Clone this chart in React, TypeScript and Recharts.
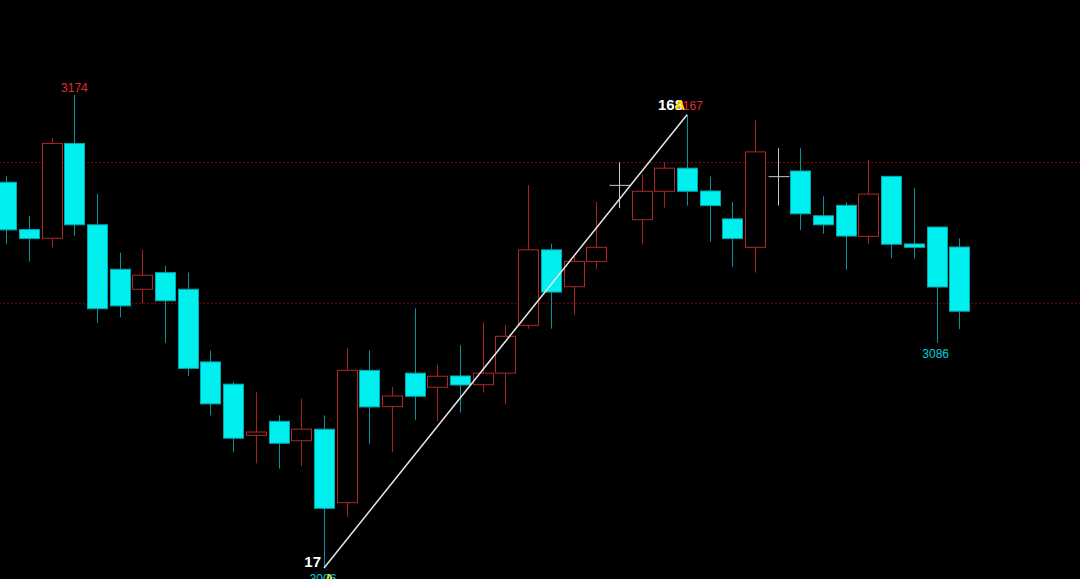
import { ComposedChart, Bar, XAxis, YAxis, ReferenceLine, ReferenceDot } from "recharts";

// OHLC, one entry per candle, left to right
const opens = [3143.0, 3126.2, 3123.1, 3156.8, 3127.9, 3112.1, 3105.0, 3110.9, 3105.0, 3079.2, 3071.3, 3053.1, 3058.1, 3051.2, 3055.3, 3029.2, 3076.2, 3063.3, 3075.2, 3070.2, 3074.2, 3071.1, 3075.2, 3092.2, 3119.0, 3105.9, 3114.9, 3141.9, 3129.7, 3139.8, 3148.0, 3139.9, 3130.0, 3119.9, 3145.0, 3147.0, 3131.1, 3134.8, 3123.8, 3145.1, 3121.1, 3127.1, 3120.0];
const highs = [3145.2, 3131.0, 3158.7, 3174.0, 3138.8, 3118.0, 3119.0, 3113.3, 3110.9, 3083.2, 3072.1, 3068.4, 3060.2, 3066.1, 3060.2, 3084.1, 3083.3, 3070.3, 3098.2, 3078.2, 3085.1, 3093.3, 3092.3, 3142.0, 3121.2, 3116.6, 3136.0, 3150.1, 3145.9, 3150.1, 3167.0, 3145.1, 3136.0, 3165.0, 3155.1, 3155.1, 3138.0, 3136.0, 3150.9, 3145.1, 3141.0, 3127.1, 3123.1];
const lows = [3121.1, 3114.8, 3119.9, 3123.9, 3093.1, 3095.0, 3100.0, 3086.0, 3074.2, 3060.2, 3047.1, 3043.2, 3041.3, 3042.2, 3006.0, 3024.2, 3050.0, 3047.2, 3058.6, 3058.2, 3061.2, 3068.3, 3064.1, 3091.0, 3091.0, 3096.0, 3112.1, 3133.8, 3121.0, 3134.0, 3134.7, 3121.9, 3113.0, 3110.9, 3134.7, 3126.1, 3124.7, 3112.0, 3121.1, 3116.0, 3116.0, 3086.0, 3090.9];
const closes = [3126.1, 3123.0, 3156.8, 3127.9, 3098.1, 3099.1, 3110.0, 3100.9, 3076.9, 3064.3, 3052.1, 3054.3, 3050.3, 3055.3, 3027.2, 3076.2, 3063.2, 3067.1, 3067.0, 3074.1, 3071.0, 3075.2, 3088.3, 3119.0, 3104.0, 3114.9, 3119.9, 3141.9, 3139.8, 3148.0, 3139.8, 3134.7, 3123.0, 3153.8, 3145.0, 3131.8, 3127.9, 3123.9, 3138.8, 3121.0, 3119.9, 3105.8, 3097.2];

// dotted guide levels
const guideLevels = [3150, 3100];
// marked extremes (candle index)
const highMarks = [3, 30];
const lowMarks = [14, 41];
// wave: from low candle to high candle, with its counts
const waveFrom = 14;
const waveTo = 30;
const waveLabels = ["17", "168"];

const priceDomain = [3002.09, 3207.74];

const rows = opens.map((o, i) => ({
  name: String(i),
  open: o,
  high: highs[i],
  low: lows[i],
  close: closes[i],
}));

const CYAN = "#00f0f0";
const CYAN_EDGE = "#00a8b0";
const CYAN_WICK = "#00969c";
const RED = "#b02828";
const RED_WICK = "#a82222";
const CROSS = "#c8c8c8";
const FONT = "'Liberation Sans', Arial, sans-serif";
const W = 1090;
const H = 579;

function Candle(props: any) {
  const { x, y, width, height, payload } = props;
  if (!payload || height == null) return null;
  const { open, close, high, low } = payload;
  const top0 = Math.min(y, y + height);
  const h = Math.abs(height);
  const k = high === low ? 0 : h / (high - low);
  const py = (v: number) => top0 + (high - v) * k;
  const cx = Math.round(x + width / 2) + 0.5;
  const yH = py(high);
  const yL = py(low);

  if (open === close) {
    const yc = py(open);
    return (
      <g>
        <line x1={cx} x2={cx} y1={yH} y2={yL} stroke={CROSS} strokeWidth={1} />
        <line x1={cx - 10} x2={cx + 11} y1={yc} y2={yc} stroke={CROSS} strokeWidth={1} />
      </g>
    );
  }

  const up = close > open;
  const bTop = py(Math.max(open, close));
  const bBot = py(Math.min(open, close));
  const wick = up ? RED_WICK : CYAN_WICK;
  return (
    <g>
      <line x1={cx} x2={cx} y1={yH} y2={bTop} stroke={wick} strokeWidth={1} />
      <line x1={cx} x2={cx} y1={bBot} y2={yL} stroke={wick} strokeWidth={1} />
      <rect
        x={cx - 10}
        y={bTop}
        width={20}
        height={Math.max(bBot - bTop, 1)}
        fill={up ? "#000" : CYAN}
        stroke={up ? RED : CYAN_EDGE}
        strokeWidth={1}
      />
    </g>
  );
}

const textAt = (dx: number, dy: number, txt: string, fill: string, size: number, anchor: string, bold = false) =>
  (p: any) => {
    const vb = p.viewBox || {};
    const cx = (vb.x ?? 0) + (vb.width ?? 0) / 2;
    const cy = (vb.y ?? 0) + (vb.height ?? 0) / 2;
    return (
      <text
        x={cx + dx}
        y={cy + dy}
        fill={fill}
        fontSize={size}
        fontFamily={FONT}
        fontWeight={bold ? "bold" : "normal"}
        textAnchor={anchor as any}
      >
        {txt}
      </text>
    );
  };

const axes = (
  <>
    <XAxis dataKey="name" hide padding={{ left: 0, right: W - rows.length * 22.69 }} />
    <YAxis hide domain={priceDomain} allowDataOverflow />
  </>
);

export default function App() {
  return (
    <div
      style={{
        position: "absolute",
        left: 0,
        top: 0,
        width: 1080,
        height: 579,
        background: "#000",
        overflow: "hidden",
      }}
    >
      {/* back layer: dotted guide levels */}
      <div style={{ position: "absolute", left: -5, top: 0 }}>
        <ComposedChart width={W} height={H} data={rows} margin={{ top: 0, right: 0, bottom: 0, left: 0 }}>
          {axes}
          {guideLevels.map((v) => (
            <ReferenceLine key={v} y={v} stroke="#8a0000" strokeDasharray="2 2" strokeWidth={1} />
          ))}
        </ComposedChart>
      </div>
      {/* front layer: candles and annotations */}
      <div style={{ position: "absolute", left: -5, top: 0 }}>
        <ComposedChart width={W} height={H} data={rows} margin={{ top: 0, right: 0, bottom: 0, left: 0 }}>
          {axes}
          <Bar dataKey={(d: any) => [d.low, d.high]} shape={Candle} isAnimationActive={false} />
          <ReferenceLine
            segment={[
              { x: String(waveFrom), y: lows[waveFrom] },
              { x: String(waveTo), y: highs[waveTo] },
            ]}
            stroke="#e8e8e8"
            strokeWidth={1.5}
            ifOverflow="visible"
          />
          {highMarks.map((i) => (
            <ReferenceDot
              key={"h" + i}
              x={String(i)}
              y={highs[i]}
              r={0}
              stroke="none"
              fill="none"
              ifOverflow="visible"
              label={
                i === waveTo
                  ? textAt(-11, -5, String(Math.round(highs[i])), "#e02a2a", 12, "start")
                  : textAt(0, -3, String(Math.round(highs[i])), "#e02a2a", 12, "middle")
              }
            />
          ))}
          {lowMarks.map((i) => (
            <ReferenceDot
              key={"l" + i}
              x={String(i)}
              y={lows[i]}
              r={0}
              stroke="none"
              fill="none"
              ifOverflow="visible"
              label={textAt(-1, 15, String(Math.round(lows[i])), "#00d0dc", 12, "middle")}
            />
          ))}
          <ReferenceDot
            x={String(waveFrom)}
            y={lows[waveFrom]}
            r={0}
            stroke="none"
            fill="none"
            ifOverflow="visible"
            label={textAt(-3, -1, waveLabels[0], "#ffffff", 15, "end", true)}
          />
          <ReferenceDot
            x={String(waveTo)}
            y={highs[waveTo]}
            r={0}
            stroke="none"
            fill="none"
            ifOverflow="visible"
            label={textAt(-29, -5, waveLabels[1], "#ffffff", 15, "start", true)}
          />
          <ReferenceDot
            x={String(waveTo)}
            y={highs[waveTo]}
            r={0}
            stroke="none"
            fill="none"
            ifOverflow="visible"
            label={textAt(-7, -5, "A", "#ffd800", 14, "middle", true)}
          />
          <ReferenceDot
            x={String(waveFrom)}
            y={lows[waveFrom]}
            r={0}
            stroke="none"
            fill="none"
            ifOverflow="visible"
            label={textAt(5, 15, "A", "#ffd800", 12, "middle", true)}
          />
        </ComposedChart>
      </div>
    </div>
  );
}
